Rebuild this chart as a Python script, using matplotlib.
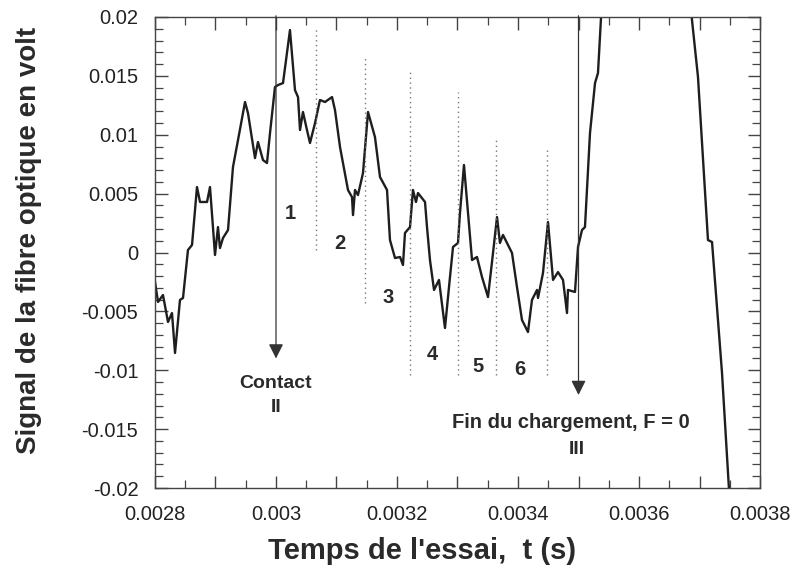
import numpy as np
import matplotlib.pyplot as plt
from matplotlib.ticker import MultipleLocator, FuncFormatter

plt.rcParams['font.family'] = ['Liberation Sans', 'DejaVu Sans']

# signal (time in s, signal in V)
t = [0.002800, 0.0028050, 0.0028132, 0.0028215, 0.0028281, 0.0028331, 0.0028413,
     0.0028463, 0.0028545, 0.0028612, 0.0028694, 0.0028744, 0.0028860, 0.0028909,
     0.0028992, 0.0029041, 0.0029074, 0.0029124, 0.0029207, 0.0029289, 0.0029372,
     0.0029488, 0.0029537, 0.0029653, 0.0029702, 0.0029785, 0.0029851, 0.0029901,
     0.0029983, 0.0030033, 0.0030116, 0.0030231, 0.0030314, 0.0030364, 0.0030397,
     0.0030446, 0.0030512, 0.0030562, 0.0030645, 0.0030727, 0.0030810, 0.0030926,
     0.0030975, 0.0031058, 0.0031107, 0.0031190, 0.0031256, 0.0031273, 0.0031306,
     0.0031355, 0.0031438, 0.0031521, 0.0031636, 0.0031719, 0.0031835, 0.0031884,
     0.0031967, 0.0032050, 0.0032099, 0.0032132, 0.0032215, 0.0032264, 0.0032314,
     0.0032347, 0.0032463, 0.0032496, 0.0032545, 0.0032612, 0.0032694, 0.0032793,
     0.0032876, 0.0032926, 0.0033008, 0.0033041, 0.0033107, 0.0033174, 0.0033240,
     0.0033322, 0.0033405, 0.0033504, 0.0033587, 0.0033653, 0.0033702, 0.0033752,
     0.0033901, 0.0033983, 0.0034066, 0.0034165, 0.0034231, 0.0034314, 0.0034331,
     0.0034413, 0.0034496, 0.0034579, 0.0034661, 0.0034744, 0.0034810, 0.0034826,
     0.0034942, 0.0034992, 0.0035058, 0.0035107, 0.0035190, 0.0035273, 0.0035322,
     0.0035388, 0.0035686, 0.0036182, 0.0036678, 0.0036876, 0.0036975, 0.0037140,
     0.0037207, 0.0037372, 0.0037488, 0.0037587]
signal = [-0.00250, -0.00420, -0.00361, -0.00590, -0.00514, -0.00853, -0.00403,
          -0.00386, 0.00021, 0.00064, 0.00556, 0.00429, 0.00429, 0.00556,
          -0.00021, 0.00216, 0.00038, 0.00123, 0.00191, 0.00726, 0.00955,
          0.01278, 0.01184, 0.00802, 0.00938, 0.00785, 0.00760, 0.01014,
          0.01405, 0.01422, 0.01439, 0.01889, 0.01379, 0.01320, 0.01040,
          0.01193, 0.01040, 0.00930, 0.01099, 0.01295, 0.01278, 0.01320,
          0.01210, 0.00896, 0.00760, 0.00531, 0.00471, 0.00318, 0.00531,
          0.00488, 0.00675, 0.01193, 0.00980, 0.00641, 0.00531, 0.00106,
          -0.00047, -0.00038, -0.00106, 0.00166, 0.00216, 0.00531, 0.00429,
          0.00505, 0.00429, 0.00216, -0.00064, -0.00318, -0.00233, -0.00641,
          -0.00208, 0.00047, 0.00081, 0.00335, 0.00743, 0.00335, -0.00064,
          -0.00038, -0.00208, -0.00378, -0.00004, 0.00301, 0.00081, 0.00149,
          -0.00004, -0.00293, -0.00573, -0.00675, -0.00403, -0.00318, -0.00386,
          -0.00174, 0.00259, -0.00233, -0.00166, -0.00233, -0.00514, -0.00318,
          -0.00335, 0.00047, 0.00191, 0.00216, 0.01014, 0.01439, 0.01524,
          0.02143, 0.0342, 0.0384, 0.0342, 0.01974, 0.01490, 0.00106,
          0.00089, -0.01023, -0.02016, -0.0261]

# dotted separators: time, bottom, top
sep_t = [0.0030661, 0.0031471, 0.0032215, 0.0033008, 0.0033636, 0.0034479]
sep_bottom = [0.0002, -0.0043, -0.0104, -0.0104, -0.0104, -0.0104]
sep_top = [0.0191, 0.0167, 0.0153, 0.0136, 0.0096, 0.0089]

# zone numbers
zone_labels = ['1', '2', '3', '4', '5', '6']
zone_t = [0.0030231, 0.0031058, 0.0031851, 0.0032579, 0.0033339, 0.0034033]
zone_v = [0.00331, 0.00076, -0.00382, -0.00866, -0.00968, -0.00993]

fig = plt.figure(figsize=(7.92, 5.68), dpi=100)
ax = fig.add_axes([0.1957, 0.1408, 0.7639, 0.8293])

ax.plot(t, signal, color='#1e1e1e', lw=1.7)

for x, b, tp in zip(sep_t, sep_bottom, sep_top):
    ax.plot([x, x], [b, tp], color='#777777', lw=1.0, ls=(0, (1, 2.5)))

for lab, x, y in zip(zone_labels, zone_t, zone_v):
    ax.text(x, y, lab, fontsize=14.5, fontweight='bold', color='#2a2a2a',
            ha='center', va='center')

# arrows: contact and end of loading
ax.annotate('', xy=(0.003, -0.0090), xytext=(0.003, 0.0201),
            arrowprops=dict(arrowstyle='-|>', color='#333333', lw=0.9,
                            mutation_scale=22, shrinkA=0, shrinkB=0))
ax.annotate('', xy=(0.0035, -0.0121), xytext=(0.0035, 0.0201),
            arrowprops=dict(arrowstyle='-|>', color='#333333', lw=0.9,
                            mutation_scale=22, shrinkA=0, shrinkB=0))

ax.text(0.003, -0.0111, 'Contact', fontsize=14, fontweight='bold',
        color='#2a2a2a', ha='center', va='center')
ax.text(0.003, -0.0132, 'II', fontsize=14, fontweight='bold',
        color='#2a2a2a', ha='center', va='center')
ax.text(0.003488, -0.01447, 'Fin du chargement, F = 0', fontsize=14.5,
        fontweight='bold', color='#2a2a2a', ha='center', va='center')
ax.text(0.003498, -0.01676, 'III', fontsize=14, fontweight='bold',
        color='#2a2a2a', ha='center', va='center')

ax.set_xlim(0.0028, 0.0038)
ax.set_ylim(-0.02, 0.02)

ax.xaxis.set_major_locator(MultipleLocator(0.0001))
ax.xaxis.set_minor_locator(MultipleLocator(0.00005))
ax.yaxis.set_major_locator(MultipleLocator(0.005))
ax.yaxis.set_minor_locator(MultipleLocator(0.001))


def xfmt(v, pos):
    if round(v / 0.0001) % 2:
        return ''
    return '%g' % round(v, 6)


ax.xaxis.set_major_formatter(FuncFormatter(xfmt))
ax.yaxis.set_major_formatter(FuncFormatter(lambda v, p: '%g' % round(v, 6)))

ax.tick_params(which='both', direction='in', top=True, right=True,
               color='#444444', labelsize=14.5, labelcolor='#222222')
ax.tick_params(which='major', length=9, width=1.0)
ax.tick_params(which='minor', length=5.5, width=0.9)
ax.tick_params(axis='x', pad=12)
ax.tick_params(axis='y', pad=12)

for s in ax.spines.values():
    s.set_color('#444444')
    s.set_linewidth(1.0)

ax.set_xlabel("Temps de l'essai,  t (s)", fontsize=21, fontweight='bold',
              color='#2a2a2a')
ax.xaxis.set_label_coords(0.441, -0.103)
ax.set_ylabel('Signal de la fibre optique en volt', fontsize=20,
              fontweight='bold', color='#2a2a2a')
ax.yaxis.set_label_coords(-0.187, 0.525)

fig.savefig('out.png', dpi=100)
